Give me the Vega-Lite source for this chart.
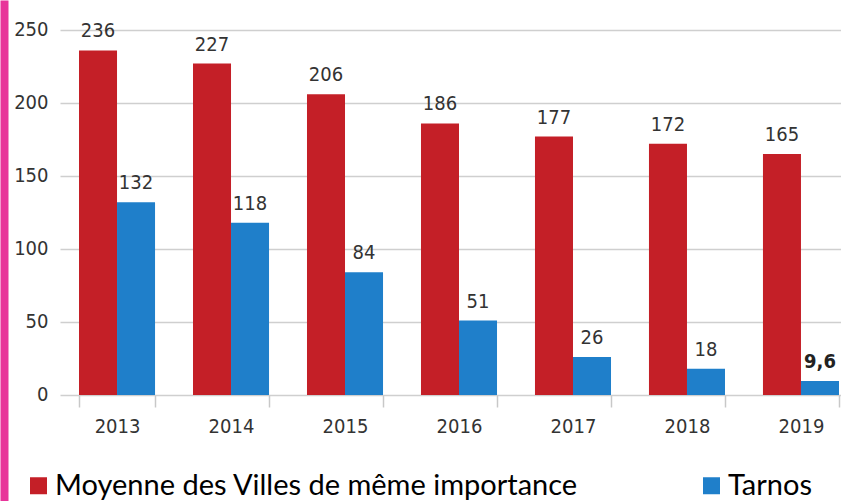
{
  "$schema": "https://vega.github.io/schema/vega-lite/v6.json",
  "autosize": {"type": "none"},
  "padding": {"left": 60, "top": 0, "right": 0, "bottom": 0},
  "width": 781,
  "height": 501,
  "background": "white",
  "config": {"view": {"stroke": null}, "font": "'DejaVu Sans Condensed', 'Liberation Sans', sans-serif"},
  "data": {
    "values": [
      {"year": "2013", "serie": "Moyenne des Villes de même importance", "value": 236, "label": "236"},
      {"year": "2013", "serie": "Tarnos", "value": 132, "label": "132"},
      {"year": "2014", "serie": "Moyenne des Villes de même importance", "value": 227, "label": "227"},
      {"year": "2014", "serie": "Tarnos", "value": 118, "label": "118"},
      {"year": "2015", "serie": "Moyenne des Villes de même importance", "value": 206, "label": "206"},
      {"year": "2015", "serie": "Tarnos", "value": 84, "label": "84"},
      {"year": "2016", "serie": "Moyenne des Villes de même importance", "value": 186, "label": "186"},
      {"year": "2016", "serie": "Tarnos", "value": 51, "label": "51"},
      {"year": "2017", "serie": "Moyenne des Villes de même importance", "value": 177, "label": "177"},
      {"year": "2017", "serie": "Tarnos", "value": 26, "label": "26"},
      {"year": "2018", "serie": "Moyenne des Villes de même importance", "value": 172, "label": "172"},
      {"year": "2018", "serie": "Tarnos", "value": 18, "label": "18"},
      {"year": "2019", "serie": "Moyenne des Villes de même importance", "value": 165, "label": "165"},
      {"year": "2019", "serie": "Tarnos", "value": 9.6, "label": "9,6"}
    ]
  },
  "encoding": {
    "x": {
      "field": "year",
      "type": "nominal",
      "scale": {"range": [0, 798], "paddingInner": 0.333, "paddingOuter": 0.1667},
      "axis": {
        "title": null,
        "offset": -106,
        "tickBand": "extent",
        "domain": false,
        "grid": false,
        "tickSize": 12,
        "tickColor": "#c8c8c8",
        "tickWidth": 1.5,
        "labelPadding": 9,
        "labelAngle": 0,
        "labelFont": "'DejaVu Sans Condensed', 'Liberation Sans', sans-serif",
        "labelFontSize": 20,
        "labelColor": "#333333"
      }
    },
    "xOffset": {
      "field": "serie",
      "type": "nominal",
      "sort": ["Moyenne des Villes de même importance", "Tarnos"],
      "scale": {"paddingInner": 0, "paddingOuter": 0}
    },
    "y": {
      "field": "value",
      "type": "quantitative",
      "scale": {"domain": [-72.6, 270.5], "nice": false, "zero": false},
      "axis": {
        "title": null,
        "values": [0, 50, 100, 150, 200, 250],
        "offset": 56,
        "domainColor": "#e8359a",
        "domainWidth": 8,
        "ticks": false,
        "tickSize": 0,
        "labelPadding": -44,
        "grid": true,
        "gridColor": "#cfcfcf",
        "gridWidth": 1.5,
        "labelFont": "'DejaVu Sans Condensed', 'Liberation Sans', sans-serif",
        "labelFontSize": 20,
        "labelColor": "#333333"
      }
    }
  },
  "layer": [
    {
      "mark": {"type": "bar"},
      "encoding": {
        "y2": {"datum": 0},
        "color": {
          "field": "serie",
          "type": "nominal",
          "scale": {"domain": ["Moyenne des Villes de même importance", "Tarnos"], "range": ["#c41f27", "#1f7fca"]},
          "legend": {
            "title": null,
            "orient": "none",
            "legendX": -36,
            "legendY": 471,
            "direction": "horizontal",
            "symbolType": "square",
            "symbolSize": 289,
            "symbolStrokeWidth": 0,
            "labelFont": "Lato",
            "labelFontSize": 29,
            "labelColor": "#000000",
            "labelLimit": 800,
            "labelOffset": 2,
            "columnPadding": 118,
            "encode": {
              "symbols": {"update": {"fill": {"signal": "datum.value === 'Tarnos' ? '#4a8fd4' : '#e0282c'"}}}
            }
          }
        }
      }
    },
    {
      "transform": [{"filter": "datum.label !== '9,6'"}],
      "mark": {"type": "text", "baseline": "alphabetic", "dy": -13, "fontSize": 20, "color": "#333333", "font": "'DejaVu Sans Condensed', 'Liberation Sans', sans-serif"},
      "encoding": {"text": {"field": "label"}}
    },
    {
      "transform": [{"filter": "datum.label === '9,6'"}],
      "mark": {"type": "text", "baseline": "alphabetic", "dy": -13, "fontSize": 20, "fontWeight": "bold", "color": "#222222", "font": "'DejaVu Sans Condensed', 'Liberation Sans', sans-serif"},
      "encoding": {"text": {"field": "label"}}
    },
    {
      "data": {"values": [{}]},
      "mark": {"type": "rule", "color": "#c8c8c8", "strokeWidth": 1.5},
      "encoding": {
        "x": {"datum": "2013", "bandPosition": -0.25},
        "xOffset": null,
        "y": {"datum": 0},
        "y2": {"datum": 250}
      }
    }
  ]
}
